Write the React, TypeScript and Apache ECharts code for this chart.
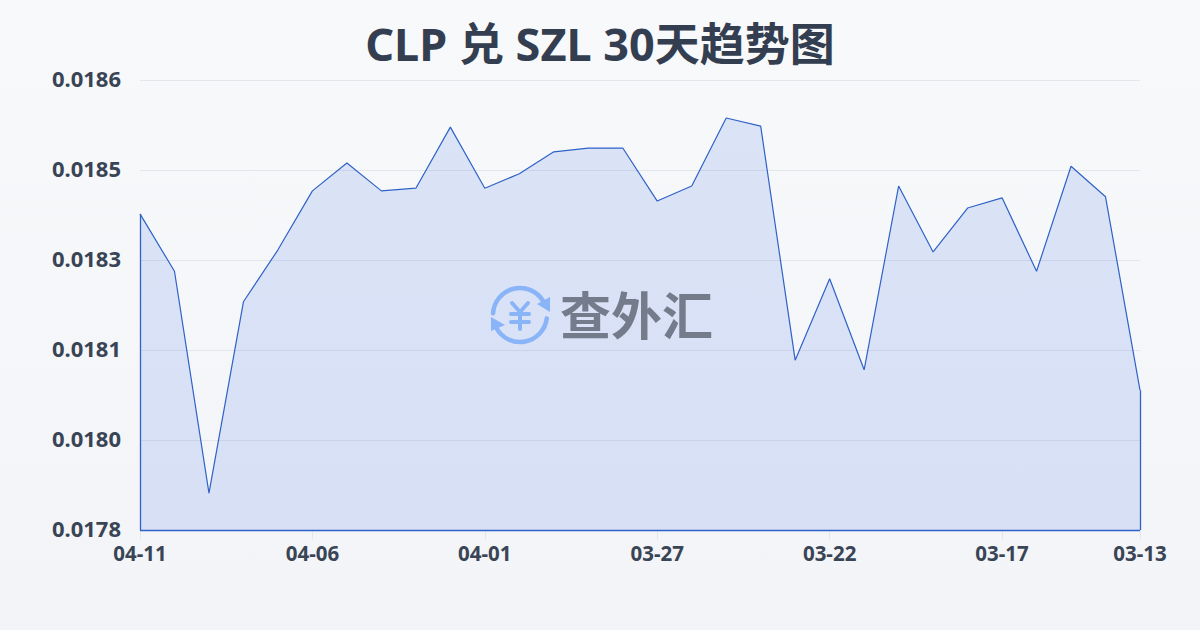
import React, { useEffect, useRef } from "react";
import * as echarts from "echarts";

const titleText = "CLP 兑 SZL 30天趋势图";
const watermarkText = "查外汇";
const dates = ["04-11","04-10","04-09","04-08","04-07","04-06","04-05","04-04","04-03","04-02","04-01","03-31","03-30","03-29","03-28","03-27","03-26","03-25","03-24","03-23","03-22","03-21","03-20","03-19","03-18","03-17","03-16","03-15","03-14","03-13"];
const rates = [0.018398,0.018291,0.017877,0.018234,0.018331,0.018441,0.018493,0.018441,0.018446,0.01856,0.018446,0.018473,0.018514,0.018521,0.018521,0.018422,0.01845,0.018577,0.018562,0.018125,0.018277,0.018107,0.01845,0.018327,0.018409,0.018428,0.018291,0.018487,0.01843,0.018069];
const yMin = 0.017808;
const yMax = 0.018648;
const yStep = 0.000168;

const lastIndex = dates.length - 1;
const FONT = '"Noto Sans", "Noto Sans CJK SC", sans-serif';
const LINE = "#2f62c8";
const ICON = "#8ab4f8";
const iconLine = (x1: number, y1: number, x2: number, y2: number) => ({
  type: "line", silent: true, z: 100, shape: { x1, y1, x2, y2 },
  style: { stroke: ICON, lineWidth: 4, lineCap: "round" },
});
const iconArc = (startAngle: number, endAngle: number) => ({
  type: "arc", silent: true, z: 100,
  shape: { cx: 520, cy: 315, r: 27, startAngle, endAngle, clockwise: true },
  style: { stroke: ICON, lineWidth: 4.5, fill: "none", lineCap: "round" },
});

export default function App() {
  const ref = useRef<HTMLDivElement>(null);
  useEffect(() => {
    document.body.style.margin = "0";
    const chart = echarts.init(ref.current!, undefined, { renderer: "svg" });
    chart.setOption({
      animation: false,
      backgroundColor: {
        type: "linear", x: 0, y: 0, x2: 0, y2: 1,
        colorStops: [{ offset: 0, color: "#f8f9fb" }, { offset: 1, color: "#f2f4f7" }],
      },
      title: {
        text: titleText, left: "center", top: 16,
        textStyle: { fontFamily: FONT, fontSize: 45, fontWeight: "bold", color: "#333e50" },
      },
      grid: { left: 140, right: 60, top: 80, bottom: 100 },
      xAxis: {
        type: "category", data: dates, boundaryGap: false,
        axisLine: { show: false },
        axisTick: {
          show: true, length: 10,
          interval: (i: number) => i % 5 === 0 || i === lastIndex,
          lineStyle: { color: "#e4e7ec" },
        },
        axisLabel: {
          interval: (i: number) => i % 5 === 0 || i === lastIndex,
          margin: 13, fontFamily: FONT, fontSize: 20.5, fontWeight: "bold", color: "#394455",
          hideOverlap: false, showMinLabel: true, showMaxLabel: true,
        },
        splitLine: { show: false },
      },
      yAxis: {
        type: "value", min: yMin, max: yMax, interval: yStep,
        axisLine: { show: false }, axisTick: { show: false },
        axisLabel: {
          margin: 19,
          formatter: (v: number) => `{t|${v.toFixed(4)}}`,
          rich: {
            t: {
              fontFamily: FONT, fontSize: 22, fontWeight: "bold", color: "#394455",
              padding: [0, 0, 4, 0],
            },
          },
        },
        splitLine: { lineStyle: { color: "#e3e6eb", width: 1 } },
      },
      series: [{
        type: "line", data: rates, symbol: "none", smooth: false,
        lineStyle: { color: LINE, width: 1.2 },
        areaStyle: { color: "rgba(65,110,230,0.22)", origin: "start" },
        markLine: {
          silent: true, symbol: "none", label: { show: false },
          lineStyle: { color: LINE, width: 1.3, type: "solid" },
          data: [
            [{ coord: [dates[0], yMin] }, { coord: [dates[0], rates[0]] }],
            [{ coord: [dates[0], yMin] }, { coord: [dates[lastIndex], yMin] }],
            [{ coord: [dates[lastIndex], yMin] }, { coord: [dates[lastIndex], rates[lastIndex]] }],
          ],
        },
      }],
      graphic: [
        iconArc(-Math.PI * 0.98, -Math.PI * 0.17),
        iconArc(Math.PI * 0.04, Math.PI * 0.84),
        { type: "polygon", silent: true, z: 100, shape: { points: [[550, 297], [550, 312], [537, 304]] }, style: { fill: ICON } },
        { type: "polygon", silent: true, z: 100, shape: { points: [[491, 317], [491, 331], [505, 325]] }, style: { fill: ICON } },
        iconLine(512, 303, 520, 312),
        iconLine(528, 303, 520, 312),
        iconLine(511, 314, 529, 314),
        iconLine(511, 322, 529, 322),
        iconLine(520, 312, 520, 329),
        {
          type: "text", silent: true, z: 100, x: 560, y: 313,
          style: {
            text: watermarkText, fontFamily: '"Noto Sans CJK SC", sans-serif', fontSize: 51, fontWeight: "bold",
            fill: "#747c8c", textAlign: "left", textVerticalAlign: "middle",
          },
        },
      ],
    });
    return () => chart.dispose();
  }, []);
  return <div ref={ref} style={{ width: 1200, height: 630 }} />;
}
